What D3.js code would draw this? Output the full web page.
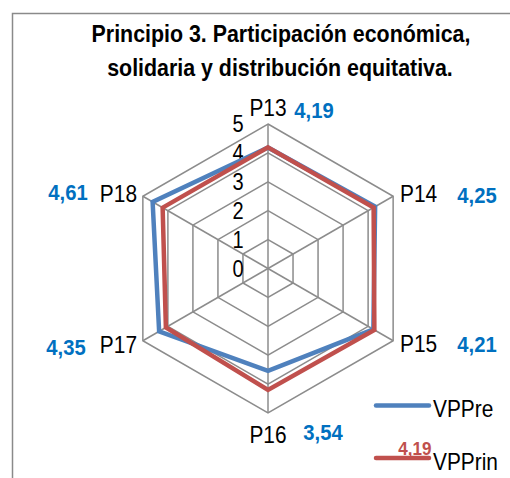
<!DOCTYPE html>
<html>
<head>
<meta charset="utf-8">
<script src="https://cdn.jsdelivr.net/npm/d3@7"></script>
<style>
  body { margin: 0; background: #fff; }
  svg text { font-family: "Liberation Sans", Arial, sans-serif; }
</style>
</head>
<body>
<div class="radarChart"></div>
<script>
const categories = ['P13', 'P14', 'P15', 'P16', 'P17', 'P18']
const vppre = [4.19, 4.28, 4.21, 3.54, 4.35, 4.61]
const vpprin = [4.19, 4.22, 4.25, 4.2, 4.08, 4.21]
const preLabels = ['4,19', '4,25', '4,21', '3,54', '4,35', '4,61']
const ticks = [0, 1, 2, 3, 4, 5]
const seriesNames = ['VPPre', 'VPPrin']

// narrow text: no condensed font installed, so squeeze it horizontally
function narrowText(parent, x, y, str, size, anchor, sx) {
    return parent.append('text')
        .attr('transform', 'translate(' + x + ',' + y + ') scale(' + (sx || 0.87) + ',1)')
        .attr('text-anchor', anchor || 'start')
        .attr('font-size', size + 'px')
        .text(str)
}

function renderRadar() {
    const width = 510, height = 478
    const cx = 268, cy = 268.5
    const blue = '#4F81BD', red = '#C0504D', grid = '#8c8c8c'

    const svg = d3.select('.radarChart').append('svg')
        .attr('width', width)
        .attr('height', height)

    // chart frame (cut off at the right and bottom)
    svg.append('path')
        .attr('d', 'M12.5,' + height + ' V13.5 H' + width)
        .attr('fill', 'none')
        .attr('stroke', '#8a8a8a')
        .attr('stroke-width', 1.5)

    narrowText(svg, 281, 42, 'Principio 3. Participación económica,', 23.5, 'middle', 0.91)
        .attr('font-weight', 'bold')
    narrowText(svg, 280, 76, 'solidaria y distribución equitativa.', 23.5, 'middle', 0.91)
        .attr('font-weight', 'bold')

    const r = d3.scaleLinear().domain([0, 5]).range([0, 144.5])
    const angle = d3.scalePoint().domain(categories).range([0, 2 * Math.PI * 5 / 6])
    const pt = (c, v) => [cx + r(v) * Math.sin(angle(c)), cy - r(v) * Math.cos(angle(c))]

    const g = svg.append('g')

    // rings
    ticks.filter(t => t > 0).forEach(t => {
        g.append('polygon')
            .attr('points', categories.map(c => pt(c, t).join(',')).join(' '))
            .attr('fill', 'none')
            .attr('stroke', grid)
            .attr('stroke-width', 1.5)
    })
    // spokes
    categories.forEach(c => {
        const p = pt(c, 5)
        g.append('line')
            .attr('x1', cx).attr('y1', cy)
            .attr('x2', p[0]).attr('y2', p[1])
            .attr('stroke', grid)
            .attr('stroke-width', 1.5)
    })

    // tick labels
    ticks.forEach(t => {
        narrowText(g, cx - 30, cy - r(t) + 8, t, 23, 'middle')
    })

    const line = d3.line().curve(d3.curveLinearClosed)
    const series = [{name: seriesNames[0], values: vppre, color: blue},
                    {name: seriesNames[1], values: vpprin, color: red}]
    series.forEach(s => {
        g.append('path')
            .attr('d', line(categories.map((c, i) => pt(c, s.values[i]))))
            .attr('fill', 'none')
            .attr('stroke', s.color)
            .attr('stroke-width', 4.5)
            .attr('stroke-linejoin', 'miter')
    })

    // category labels and blue value labels
    const catPos = {
        P13: {x: 268, y: 116, a: 'middle', vx: 314, vy: 118},
        P14: {x: 400, y: 202, a: 'start', vx: 477, vy: 203},
        P15: {x: 400, y: 352, a: 'start', vx: 477, vy: 352},
        P16: {x: 268, y: 443, a: 'middle', vx: 323, vy: 440},
        P17: {x: 137, y: 353, a: 'end', vx: 66, vy: 355},
        P18: {x: 137, y: 202, a: 'end', vx: 68, vy: 200}
    }
    categories.forEach((c, i) => {
        const p = catPos[c]
        narrowText(svg, p.x, p.y, c, 24, p.a)
        narrowText(svg, p.vx, p.vy, preLabels[i], 22, 'middle', 0.92)
            .attr('font-weight', 'bold')
            .attr('fill', '#0070C0')
    })

    // legend
    const legend = svg.selectAll('.legend')
        .data(series).enter()
        .append('g')
        .attr('class', 'legend')
        .attr('transform', (d, i) => 'translate(376,' + (405.5 + 52.5 * i) + ')')
    legend.append('line')
        .attr('x1', 0).attr('x2', 53)
        .attr('stroke', d => d.color)
        .attr('stroke-width', 4.5)
        .attr('stroke-linecap', 'round')
    legend.each(function (d) {
        narrowText(d3.select(this), 57, 11.5, d.name, 24, 'start')
    })

    // stray red data label near the legend
    narrowText(svg, 415, 455, '4,19', 18, 'middle', 0.95)
        .attr('font-weight', 'bold')
        .attr('fill', red)
}

renderRadar()
</script>
</body>
</html>
